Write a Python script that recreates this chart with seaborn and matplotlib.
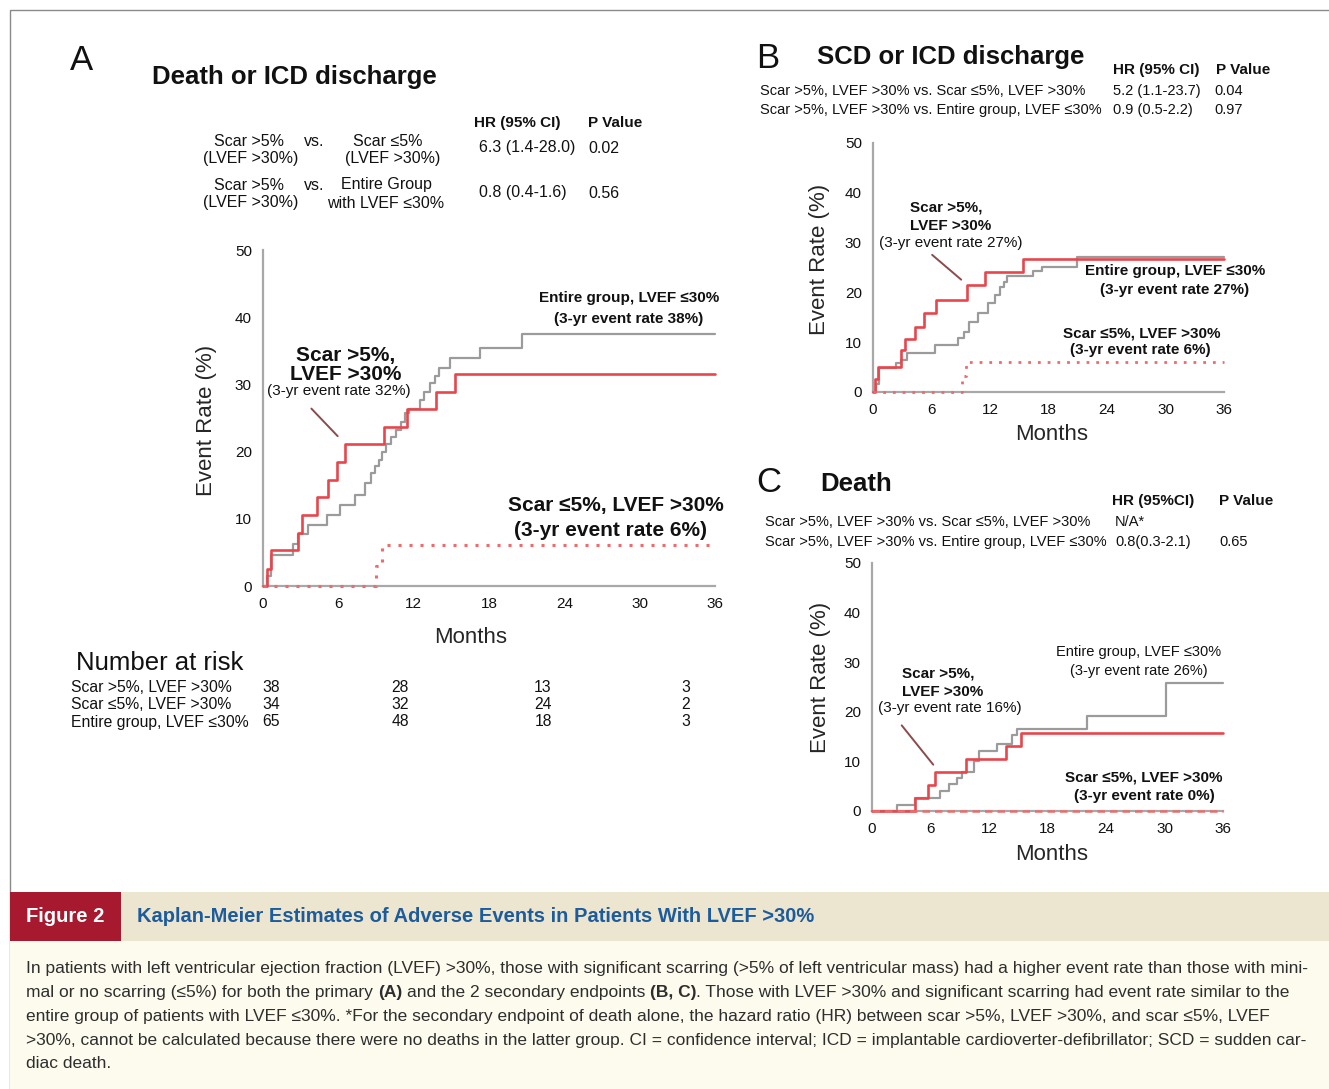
import matplotlib
matplotlib.use("Agg")
import matplotlib.pyplot as plt
import pandas as pd
import seaborn as sns
from matplotlib.patches import Rectangle

W, H = 1329, 1089

month_ticks = [0, 6, 12, 18, 24, 30, 36]
rate_ticks = [0, 10, 20, 30, 40, 50]

# Panel A - death or ICD discharge (cumulative event rate, %)
a_scar_hi_months = [0, 0.3, 0.6, 2.8, 3.1, 4.3, 5.2, 5.9, 6.5, 9.6, 11.5, 13.8, 15.3, 36]
a_scar_hi_rate = [0, 2.6, 5.3, 7.9, 10.5, 13.2, 15.8, 18.4, 21.1, 23.7, 26.3, 28.9, 31.6, 31.6]
a_scar_lo_months = [0, 9.0, 9.5, 36]
a_scar_lo_rate = [0, 3.0, 6.1, 6.1]
a_entire_months = [0, 0.3, 0.6, 2.4, 2.8, 3.6, 5.1, 6.1, 7.3, 8.1, 8.6, 8.9, 9.2, 9.5, 9.8,
                   10.2, 10.6, 11.0, 11.3, 11.6, 12.5, 12.8, 13.3, 13.7, 14.0, 14.9, 17.3, 20.6, 36]
a_entire_rate = [0, 1.5, 4.6, 6.2, 7.8, 9.1, 10.6, 12.1, 13.6, 15.3, 16.8, 17.8, 18.8, 20.0, 21.2,
                 22.2, 23.2, 24.4, 25.7, 26.4, 27.7, 28.9, 30.2, 31.2, 32.4, 33.9, 35.4, 37.5, 37.5]

# Panel B - SCD or ICD discharge
b_scar_hi_months = [0, 0.2, 0.5, 2.9, 3.3, 4.3, 5.2, 6.5, 9.6, 11.5, 15.4, 36]
b_scar_hi_rate = [0, 2.6, 5.1, 8.4, 10.6, 13.1, 15.8, 18.5, 21.5, 24.0, 26.7, 26.7]
b_scar_lo_months = [0, 9.1, 9.5, 36]
b_scar_lo_rate = [0, 3.2, 6.1, 6.1]
b_entire_months = [0, 0.3, 0.6, 2.4, 2.9, 3.5, 6.4, 8.7, 9.3, 9.8, 10.8, 11.8, 12.5, 13.0,
                   13.4, 13.7, 16.4, 17.3, 20.9, 36]
b_entire_rate = [0, 1.6, 4.8, 5.8, 6.4, 7.9, 9.4, 10.8, 12.1, 14.1, 15.8, 17.8, 19.5, 21.1,
                 22.1, 23.3, 24.2, 25.2, 27.2, 27.2]

# Panel C - death
c_scar_hi_months = [0, 4.4, 5.7, 6.5, 9.6, 13.7, 15.3, 36]
c_scar_hi_rate = [0, 2.7, 5.3, 7.9, 10.5, 13.1, 15.7, 15.7]
c_scar_lo_months = [0, 36]
c_scar_lo_rate = [0, 0]
c_entire_months = [0, 2.6, 4.4, 7.0, 7.9, 8.7, 9.2, 10.5, 11.0, 12.8, 14.4, 14.9, 22.0, 30.2, 36]
c_entire_rate = [0, 1.3, 2.6, 4.1, 5.5, 6.6, 7.9, 10.0, 12.0, 13.6, 15.3, 16.6, 19.2, 25.9, 25.9]

# Number at risk (panel A)
risk_groups = ["Scar >5%, LVEF >30%", "Scar ≤5%, LVEF >30%", "Entire group, LVEF ≤30%"]
risk_counts = [[38, 28, 13, 3], [34, 32, 24, 2], [65, 48, 18, 3]]

# hazard ratio tables
a_hr = ["6.3 (1.4-28.0)", "0.8 (0.4-1.6)"]
a_p = ["0.02", "0.56"]
b_rows = ["Scar >5%, LVEF >30% vs. Scar ≤5%, LVEF >30%",
          "Scar >5%, LVEF >30% vs. Entire group, LVEF ≤30%"]
b_hr = ["5.2 (1.1-23.7)", "0.9 (0.5-2.2)"]
b_p = ["0.04", "0.97"]
c_rows = b_rows
c_hr = ["N/A*", "0.8(0.3-2.1)"]
c_p = ["", "0.65"]

RED = "#e8464c"
RED_DOT = "#ef6b6b"
GRAY = "#9b9b9b"
SPINE = "#a8a8a8"
INK = "#111111"

sns.set_style("white")
plt.rcParams["font.family"] = ["Liberation Sans", "DejaVu Sans"]

fig = plt.figure(figsize=(W / 100, H / 100), dpi=100)


def km_axes(left, top, right, bottom):
    ax = fig.add_axes([left / W, 1 - bottom / H, (right - left) / W, (bottom - top) / H])
    ax.set_facecolor("none")
    ax.set_xlim(0, 36)
    ax.set_ylim(0, 50)
    ax.set_xticks(month_ticks)
    ax.set_yticks(rate_ticks)
    sns.despine(ax=ax)
    for side in ("left", "bottom"):
        ax.spines[side].set_color(SPINE)
        ax.spines[side].set_linewidth(1.6)
    ax.tick_params(direction="out", length=4, width=1.2, color=SPINE,
                   labelsize=11, labelcolor=INK, pad=4)
    return ax


def step(ax, months, rate, color, lw, ls="-"):
    df = pd.DataFrame({"months": months, "rate": rate})
    sns.lineplot(data=df, x="months", y="rate", ax=ax, color=color, linewidth=lw,
                 linestyle=ls, drawstyle="steps-post", estimator=None, legend=False,
                 clip_on=False, zorder=3)


def labels(ax, xl, yl):
    ax.set_xlabel("Months", fontsize=16, va="center")
    ax.set_ylabel("Event Rate (%)", fontsize=16, va="center")
    ax.xaxis.set_label_coords(*xl)
    ax.yaxis.set_label_coords(*yl)


def leader(ax, start, end):
    ax.annotate("", xy=end, xytext=start,
                arrowprops=dict(arrowstyle="-", color="#8c4b4b", lw=1.4))


# ---- panel A ----
ax_a = km_axes(263, 250, 715, 586)
step(ax_a, a_entire_months, a_entire_rate, GRAY, 1.6)
step(ax_a, a_scar_hi_months, a_scar_hi_rate, RED, 1.9)
step(ax_a, a_scar_lo_months, a_scar_lo_rate, RED_DOT, 2.2, (0, (1, 2.6)))
labels(ax_a, (0.46, -0.152), (-0.124, 0.494))
leader(ax_a, (3.7, 26.7), (6.1, 22.0))

# ---- panel B ----
ax_b = km_axes(873, 143, 1224, 392)
step(ax_b, b_entire_months, b_entire_rate, GRAY, 1.6)
step(ax_b, b_scar_hi_months, b_scar_hi_rate, RED, 1.9)
step(ax_b, b_scar_lo_months, b_scar_lo_rate, RED_DOT, 2.0, (0, (1, 2.5)))
labels(ax_b, (0.51, -0.169), (-0.151, 0.534))
leader(ax_b, (5.85, 27.9), (9.26, 22.2))

# ---- panel C ----
ax_c = km_axes(872, 563, 1223, 811)
step(ax_c, c_entire_months, c_entire_rate, GRAY, 1.6)
step(ax_c, c_scar_hi_months, c_scar_hi_rate, RED, 1.9)
step(ax_c, c_scar_lo_months, c_scar_lo_rate, RED_DOT, 1.8, (0, (3, 2)))
labels(ax_c, (0.513, -0.177), (-0.148, 0.54))
leader(ax_c, (2.87, 17.7), (6.46, 8.9))

# ---- overlay in pixel coordinates for texts and caption ----
lay = fig.add_axes([0, 0, 1, 1])
lay.set_xlim(0, W)
lay.set_ylim(H, 0)
lay.axis("off")


def put(x, y, s, size=11, weight="normal", ha="left", color=INK):
    return lay.text(x, y, s, fontsize=size, fontweight=weight, ha=ha, va="center", color=color)


lay.add_patch(Rectangle((10, 10), W, H, fill=False, edgecolor="#8a8a8a", lw=1.0))

# panel A headers
put(70, 60, "A", 25)
put(152, 77, "Death or ICD discharge", 18.5, "bold")
put(474, 123, "HR (95% CI)", 11, "bold")
put(588, 123, "P Value", 11, "bold")
for i, (y1, y2) in enumerate([(141, 158), (185, 203)]):
    put(249, y1, "Scar >5%", 11.5, ha="center")
    put(251, y2, "(LVEF >30%)", 11.5, ha="center")
    put(304, y1, "vs.", 11.5)
    put(479, (y1 + y2) / 2 - 2, a_hr[i], 11.5)
    put(588, (y1 + y2) / 2 - 1, a_p[i], 11.5)
put(388, 141, "Scar ≤5%", 11.5, ha="center")
put(393, 158, "(LVEF >30%)", 11.5, ha="center")
put(386, 185, "Entire Group", 11.5, ha="center")
put(386, 203, "with LVEF ≤30%", 11.5, ha="center")

# panel A curve labels
put(346, 355, "Scar >5%,", 15, "bold", "center")
put(346, 374, "LVEF >30%", 15, "bold", "center")
put(339, 391, "(3-yr event rate 32%)", 11, ha="center")
put(629, 298, "Entire group, LVEF ≤30%", 11, "bold", "center")
put(629, 319, "(3-yr event rate 38%)", 11, "bold", "center")
put(616, 505, "Scar ≤5%, LVEF >30%", 15, "bold", "center")
put(610, 530, "(3-yr event rate 6%)", 15, "bold", "center")

# number at risk
put(76, 663, "Number at risk", 18.5)
risk_cols = [271, 400, 543, 686]
for row, (name, counts) in enumerate(zip(risk_groups, risk_counts)):
    y = 687 + row * 17.5
    put(71, y, name, 11.3)
    for x, n in zip(risk_cols, counts):
        put(x, y, str(n), 11.3, ha="center")

# panel B headers
put(756, 59, "B", 25)
put(817, 57, "SCD or ICD discharge", 18.5, "bold")
put(1113, 70, "HR (95% CI)", 11, "bold")
put(1216, 70, "P Value", 11, "bold")
for i, y in enumerate([91, 110]):
    put(760, y, b_rows[i], 10.5)
    put(1113, y, b_hr[i], 10.5)
    put(1214, y, b_p[i], 10.5)
put(910, 208, "Scar >5%,", 11, "bold")
put(910, 226, "LVEF >30%", 11, "bold")
put(879, 243, "(3-yr event rate 27%)", 11)
put(1175, 271, "Entire group, LVEF ≤30%", 11, "bold", "center")
put(1175, 290, "(3-yr event rate 27%)", 11, "bold", "center")
put(1142, 334, "Scar ≤5%, LVEF >30%", 11, "bold", "center")
put(1140, 350, "(3-yr event rate 6%)", 11, "bold", "center")

# panel C headers
put(756, 482, "C", 25)
put(820, 484, "Death", 18.5, "bold")
put(1112, 501, "HR (95%CI)", 11, "bold")
put(1219, 501, "P Value", 11, "bold")
for i, y in enumerate([522, 542]):
    put(765, y, c_rows[i], 10.5)
    put(1115, y, c_hr[i], 10.5)
    put(1219, y, c_p[i], 10.5)
put(902, 674, "Scar >5%,", 11, "bold")
put(902, 692, "LVEF >30%", 11, "bold")
put(878, 708, "(3-yr event rate 16%)", 11)
put(1139, 652, "Entire group, LVEF ≤30%", 10.5, ha="center")
put(1139, 671, "(3-yr event rate 26%)", 10.5, ha="center")
put(1144, 777, "Scar ≤5%, LVEF >30%", 11, "bold", "center")
put(1144, 796, "(3-yr event rate 0%)", 11, "bold", "center")

# ---- caption block ----
lay.add_patch(Rectangle((10, 892), 111, 49, color="#a6192e", lw=0))
lay.add_patch(Rectangle((121, 892), W - 121, 49, color="#ece5cf", lw=0))
lay.add_patch(Rectangle((10, 941), W - 10, H - 941, color="#fdfbee", lw=0))
put(26, 916, "Figure 2", 14.5, "bold", color="white")
put(137, 916, "Kaplan-Meier Estimates of Adverse Events in Patients With LVEF >30%",
    14.5, "bold", color="#1c5c9c")

CAP = "#2e2e2e"
CAP_SIZE = 12.5
space = 0.278 * CAP_SIZE
caption_lines = [
    [("In patients with left ventricular ejection fraction (LVEF) >30%, those with significant "
      "scarring (>5% of left ventricular mass) had a higher event rate than those with mini-", False, 0)],
    [("mal or no scarring (≤5%) for both the primary", False, 0), ("(A)", True, space),
     ("and the 2 secondary endpoints", False, space), ("(B, C)", True, space),
     (". Those with LVEF >30% and significant scarring had event rate similar to the", False, 0)],
    [("entire group of patients with LVEF ≤30%. *For the secondary endpoint of death alone, the "
      "hazard ratio (HR) between scar >5%, LVEF >30%, and scar ≤5%, LVEF", False, 0)],
    [(">30%, cannot be calculated because there were no deaths in the latter group. CI = confidence "
      "interval; ICD = implantable cardioverter-defibrillator; SCD = sudden car-", False, 0)],
    [("diac death.", False, 0)],
]
for k, parts in enumerate(caption_lines):
    y = 968 + 24 * k
    prev = None
    for text, bold, gap in parts:
        w = "bold" if bold else "normal"
        if prev is None:
            prev = put(26, y, text, CAP_SIZE, w, color=CAP)
        else:
            prev = lay.annotate(text, xy=(1, 0), xycoords=prev, xytext=(gap, 0),
                                textcoords="offset points", ha="left", va="bottom",
                                fontsize=CAP_SIZE, fontweight=w, color=CAP)

fig.savefig("out.png", dpi=100)
